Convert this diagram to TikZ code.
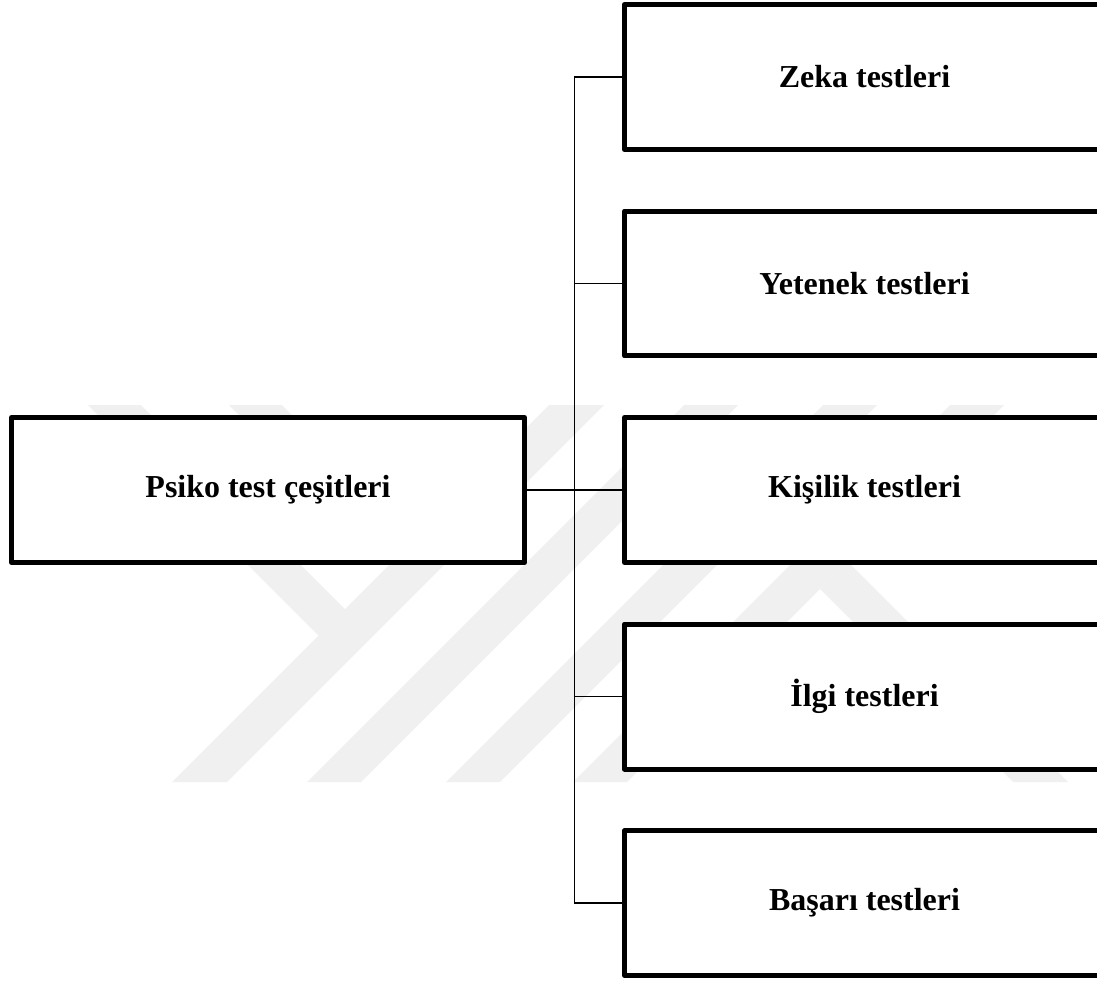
\documentclass[tikz,border=0pt]{standalone}
\usepackage{fontspec}
\setmainfont{Liberation Serif}
\begin{document}
\begin{tikzpicture}[x=0.02cm, y=-0.02cm,
  wmark/.style={fill=black!6, draw=none},
  tbox/.style={draw, fill=white, line width=2.85pt, line join=round,
    minimum width=9.6cm, minimum height=2.9cm, inner sep=0pt, outer sep=0pt,
    font=\fontsize{18.2pt}{22pt}\selectfont\bfseries},
  link/.style={line width=1.1pt},
  rootlink/.style={line width=1.3pt}]
\useasboundingbox (0,0) rectangle (1097,981);

% faint background emblem
\fill[wmark] (88,405) -- (141,405) -- (372.5,636.5) -- (318.5,635.5) -- cycle;
\fill[wmark] (229,405) -- (282,405) -- (380,503) -- (327,503) -- cycle;
\fill[wmark] (172,782) -- (227,782) -- (604,405) -- (549,405) -- cycle;
\fill[wmark] (307,782) -- (361,782) -- (738,405) -- (684,405) -- cycle;
\fill[wmark] (446,782) -- (500,782) -- (877,405) -- (823,405) -- cycle;
\fill[wmark] (573,782) -- (627,782) -- (1004,405) -- (950,405) -- cycle;
\fill[wmark] (820,589) -- (847.5,561.5) -- (1068,782) -- (1013,782) -- cycle;

% root and the five kinds of tests
\node[tbox, minimum width=10.26cm] (psiko) at (268,490) {Psiko test çeşitleri};
\node[tbox] (zeka)    at (864.5,77)    {Zeka testleri};
\node[tbox] (yetenek) at (864.5,283.5) {Yetenek testleri};
\node[tbox] (kisilik) at (864.5,490)   {Kişilik testleri};
\node[tbox] (ilgi)    at (864.5,696.5) {İlgi testleri};
\node[tbox] (basari)  at (864.5,903)   {Başarı testleri};

% tree connectors
\coordinate (trunk) at (574.5,490);
\draw[rootlink] (psiko.east) -- (psiko.east -| trunk);
\draw[link] (zeka.west) -- (zeka.west -| trunk) |- (basari.west);
\draw[link] (yetenek.west) -- (yetenek.west -| trunk);
\draw[link] (kisilik.west) -- (kisilik.west -| trunk);
\draw[link] (ilgi.west) -- (ilgi.west -| trunk);
\end{tikzpicture}
\end{document}
